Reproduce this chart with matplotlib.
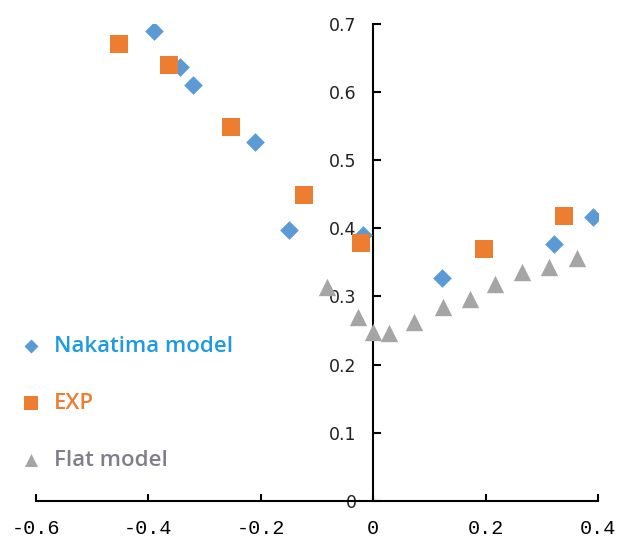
import numpy as np
import matplotlib.pyplot as plt

# Nakatima model (blue diamonds)
nak_x = [-0.390, -0.344, -0.320, -0.210, -0.150, -0.018, 0.123, 0.322, 0.392]
nak_y = [0.689, 0.637, 0.611, 0.527, 0.398, 0.390, 0.327, 0.377, 0.417]

# EXP (orange squares)
exp_x = [-0.452, -0.363, -0.253, -0.123, -0.021, 0.198, 0.340]
exp_y = [0.671, 0.640, 0.549, 0.449, 0.379, 0.369, 0.418]

# Flat model (grey triangles)
flat_x = [-0.082, -0.027, 0.000, 0.029, 0.073, 0.125, 0.173, 0.217, 0.265, 0.313, 0.363]
flat_y = [0.314, 0.270, 0.248, 0.246, 0.263, 0.285, 0.297, 0.319, 0.336, 0.344, 0.357]

x_ticks = [-0.6, -0.4, -0.2, 0, 0.2, 0.4]
x_labels = ['-0.6', '-0.4', '-0.2', '0', '0.2', '0.4']
y_ticks = [0, 0.1, 0.2, 0.3, 0.4, 0.5, 0.6, 0.7]
y_labels = ['0', '0.1', '0.2', '0.3', '0.4', '0.5', '0.6', '0.7']

fig = plt.figure(figsize=(6.19, 5.45), dpi=100)
ax = fig.add_axes([0.058, 0.081, 0.908, 0.875])

ax.scatter(flat_x, flat_y, marker='^', s=12.5**2, color='#A5A5A5', lw=0,
           label='Flat model', zorder=3)
ax.scatter(nak_x, nak_y, marker='D', s=9.5**2, color='#5B9BD5', lw=0,
           label='Nakatima model', zorder=4)
ax.scatter(exp_x, exp_y, marker='s', s=12.5**2, color='#ED7D31', lw=0,
           label='EXP', zorder=5)

ax.set_xlim(-0.6, 0.4)
ax.set_ylim(0, 0.7)

ax.spines['left'].set_position(('data', 0))
ax.spines['right'].set_visible(False)
ax.spines['top'].set_visible(False)
for s in ['left', 'bottom']:
    ax.spines[s].set_linewidth(1.5)

ax.set_xticks(x_ticks)
ax.set_xticklabels(x_labels, family='Liberation Mono', fontsize=14.5)
ax.set_yticks(y_ticks)
ax.set_yticklabels(y_labels, family='DejaVu Sans', fontsize=12.5, color='#222222')
ax.tick_params(axis='x', direction='in', length=5, width=1.5, pad=13)
ax.tick_params(axis='y', direction='in', length=6, width=1.5, pad=12)

h, l = ax.get_legend_handles_labels()
order = [1, 2, 0]
leg = ax.legend([h[i] for i in order], [l[i] for i in order],
                loc='lower left', bbox_to_anchor=(-0.068, 0.02), frameon=False,
                fontsize=16, labelspacing=1.62, handletextpad=0.42,
                handlelength=1.2, markerscale=0.75,
                labelcolor=['#1E9BE0', '#ED7D31', '#7F7F8C'])
for t in leg.get_texts():
    t.set_family('Open Sans')
    t.set_fontweight('semibold')

fig.savefig('out.png', dpi=100)
